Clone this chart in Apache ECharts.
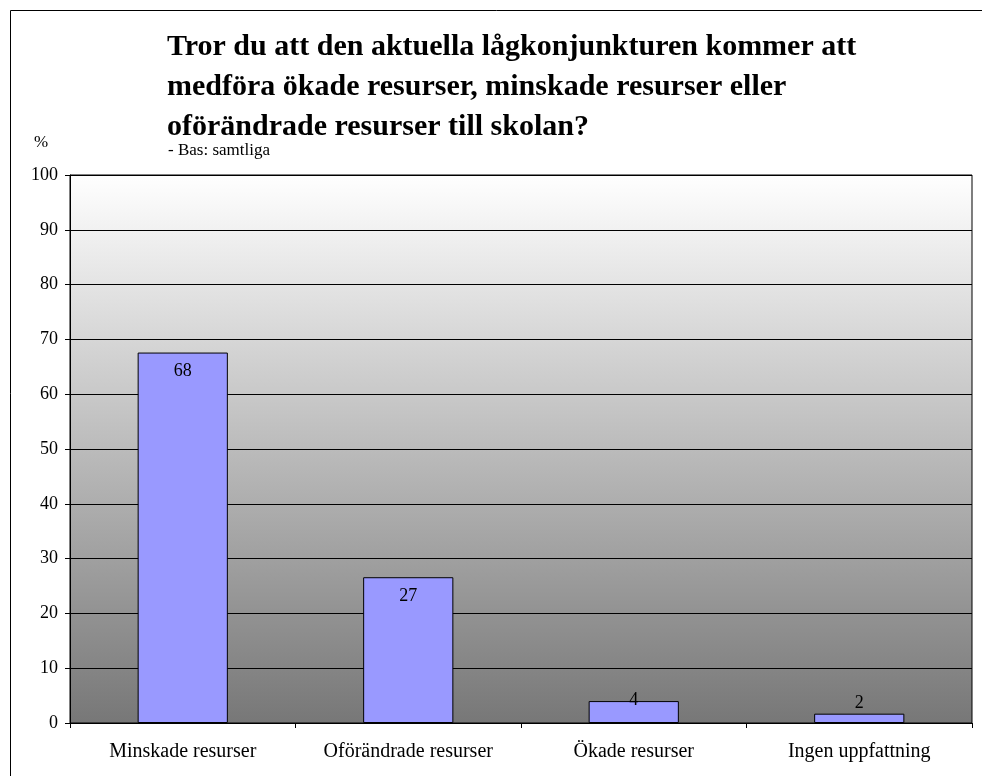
<!DOCTYPE html>
<html>
<head>
<meta charset="utf-8">
<script src="https://cdn.jsdelivr.net/npm/echarts@6/dist/echarts.min.js"></script>
<style>
html, body { margin: 0; padding: 0; background: #fff; }
#main { width: 982px; height: 776px; }
</style>
</head>
<body>
<div id="main"></div>
<script>
var categories = ['Minskade resurser', 'Oförändrade resurser', 'Ökade resurser', 'Ingen uppfattning'];
var values = [67.6, 26.6, 4.0, 1.7];
var titleLines = [
    'Tror du att den aktuella lågkonjunkturen kommer att',
    'medföra ökade resurser, minskade resurser eller',
    'oförändrade resurser till skolan?'
];
var subtitle = '- Bas: samtliga';

var font = '"Liberation Serif", "Times New Roman", serif';

var barData = values.map(function (v, i) {
    var item = { value: v };
    if (i == 2) {
        item.label = { position: 'insideTop', distance: 0, offset: [0, -10] };
    } else if (i == 3) {
        item.label = { position: 'top', distance: 1 };
    }
    return item;
});

var mainEchart = echarts.init(document.getElementById('main'));
mainEchart.setOption({
    animation: false,
    textStyle: { fontFamily: font },
    graphic: [
        {
            type: 'rect',
            shape: { x: 10.5, y: 10.5, width: 990, height: 800 },
            style: { fill: 'none', stroke: '#000', lineWidth: 1 },
            silent: true
        },
        {
            type: 'text',
            left: 167,
            top: 27,
            style: {
                text: titleLines.join('\n'),
                font: 'bold 30px ' + font,
                lineHeight: 40,
                fill: '#000'
            }
        },
        {
            type: 'text',
            left: 168,
            top: 142,
            style: { text: subtitle, font: '17px ' + font, fill: '#000' }
        },
        {
            type: 'text',
            left: 34,
            top: 134,
            style: { text: '%', font: '17px ' + font, fill: '#000' }
        }
    ],
    grid: {
        left: 70, right: 10, top: 175, bottom: 53, containLabel: false,
        show: true,
        borderColor: '#000',
        borderWidth: 1,
        backgroundColor: new echarts.graphic.LinearGradient(0, 0, 0, 1, [
            { offset: 0, color: '#ffffff' },
            { offset: 1, color: '#777777' }
        ])
    },
    xAxis: {
        type: 'category',
        data: categories,
        axisLine: { lineStyle: { color: '#000', width: 1 } },
        axisTick: { show: true, length: 5, alignWithLabel: false, lineStyle: { color: '#000' } },
        axisLabel: { color: '#000', fontSize: 20, fontFamily: font, margin: 19, interval: 0 },
        splitLine: { show: false }
    },
    yAxis: {
        type: 'value',
        min: 0,
        max: 100,
        interval: 10,
        axisLine: { show: true, lineStyle: { color: '#000' } },
        axisTick: { show: true, length: 5, lineStyle: { color: '#000' } },
        axisLabel: { color: '#000', fontSize: 18, fontFamily: font, margin: 12 },
        splitLine: { show: true, lineStyle: { color: '#000', width: 1 } },
        splitArea: { show: false }
    },
    series: [
        {
            type: 'bar',
            data: barData,
            barWidth: '40%',
            itemStyle: { color: '#9999ff', borderColor: '#000', borderWidth: 1 },
            label: {
                show: true,
                position: 'insideTop',
                distance: 10,
                color: '#000',
                fontSize: 18,
                fontFamily: font,
                formatter: function (p) { return Math.round(p.value); }
            }
        }
    ]
});
</script>
</body>
</html>
